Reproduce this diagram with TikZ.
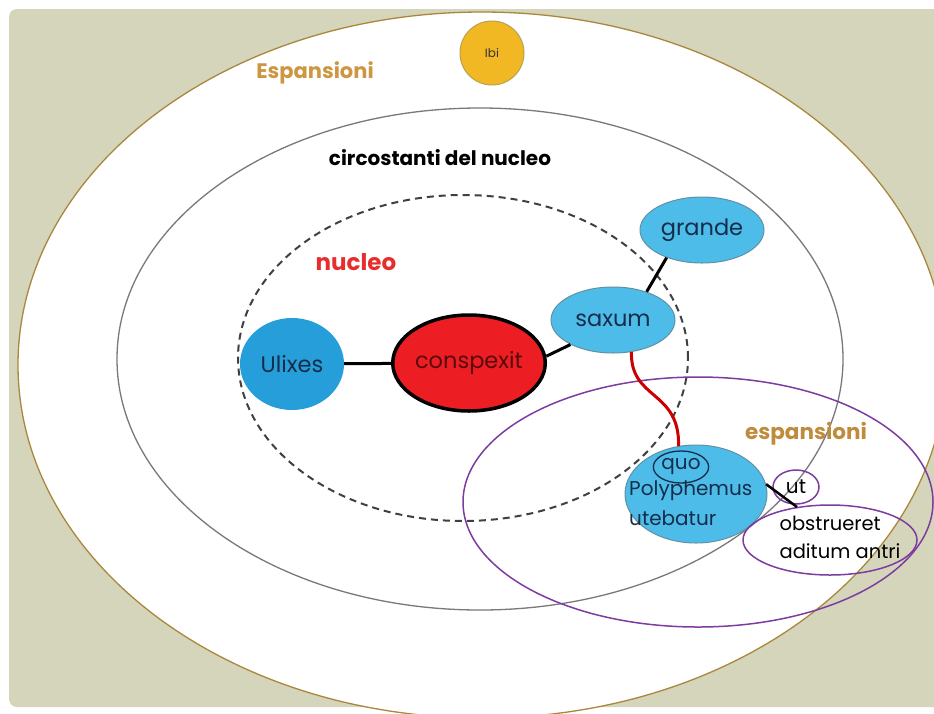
\documentclass[tikz,border=0pt]{standalone}
\usepackage{fontspec}
\setmainfont{Poppins}
\usetikzlibrary{shapes.geometric}
\definecolor{beige}{RGB}{213,213,187}
\definecolor{goldline}{RGB}{170,135,60}
\definecolor{goldtext}{RGB}{205,150,65}
\definecolor{goldtext2}{RGB}{190,140,60}
\definecolor{greyline}{RGB}{120,120,125}
\definecolor{purp}{RGB}{125,60,160}
\definecolor{blueDark}{RGB}{38,158,218}
\definecolor{blueLight}{RGB}{78,188,232}
\definecolor{blueEdge}{RGB}{95,145,165}
\definecolor{navy}{RGB}{20,45,75}
\definecolor{redfill}{RGB}{236,30,36}
\definecolor{consptext}{RGB}{90,10,10}
\definecolor{ibifill}{RGB}{242,184,36}
\definecolor{ibiedge}{RGB}{185,160,80}
\definecolor{nucred}{RGB}{232,45,45}
\tikzset{
  bubble/.style={ellipse, inner sep=0pt, font=\fontsize{22.5}{22.5}\selectfont, text=navy},
  lightbubble/.style={bubble, fill=blueLight, draw=blueEdge, line width=1pt},
  purpring/.style={ellipse, inner sep=0pt, draw=purp, line width=1.5pt},
  link/.style={line width=3pt, black},
  label/.style={inner sep=0pt, font=\bfseries\fontsize{21}{21}\selectfont},
  plaintext/.style={inner sep=0pt, anchor=west, font=\fontsize{20}{27}\selectfont}
}
\begin{document}
\begin{tikzpicture}[x=1pt,y=-1pt]
\useasboundingbox (0,0) rectangle (934,713);
\clip (0,0) rectangle (934,713);
\fill[white] (0,0) rectangle (934,713);
\fill[beige, rounded corners=8pt] (9,9) rectangle (960,707);
% outer ellipse
\draw[goldline, fill=white, line width=1.3pt] (482,365) ellipse [x radius=464pt, y radius=353pt];
% middle ellipse
\draw[greyline, line width=1.3pt] (480,359) ellipse [x radius=363pt, y radius=251pt];
% nucleus dashed
\draw[black!75, line width=2pt, dash pattern=on 7pt off 5pt] (463,358) ellipse [x radius=225pt, y radius=163pt];
% big purple ellipse
\draw[purp, line width=1.5pt] (698,502) ellipse [x radius=235pt, y radius=125pt];

% labels
\node[label, text=goldtext] (lEsp) at (315,73) {Espansioni};
\node[label, text=black, font=\bfseries\fontsize{20}{20}\selectfont] (lCirc) at (440,158) {circostanti del nucleo};
\node[label, text=nucred, font=\bfseries\fontsize{23}{23}\selectfont] (lNuc) at (356,262) {nucleo};
\node[label, text=goldtext2, font=\bfseries\fontsize{21.5}{21.5}\selectfont] (lesp) at (806,434) {espansioni};

% Ibi
\node[circle, fill=ibifill, draw=ibiedge, line width=1pt, minimum size=64pt, inner sep=0pt,
      font=\fontsize{12}{12}\selectfont, text=black!80] (ibi) at (492,53) {Ibi};

% main nodes
\node[bubble, fill=blueDark, minimum width=104pt, minimum height=92pt] (ulixes) at (292,364) {Ulixes};
\node[bubble, fill=redfill, draw=black, line width=3.5pt, minimum width=130pt, minimum height=96pt, text=consptext] (consp) at (469,363) {conspexit};
\node[lightbubble, minimum width=124pt, minimum height=66pt] (saxum) at (613,320) {saxum};
\node[lightbubble, minimum width=124pt, minimum height=66pt] (grande) at (702,230) {grande};
\node[lightbubble, minimum width=142pt, minimum height=98pt] (poly) at (696,494) {};

\draw[link] (ulixes) -- (consp);
\draw[link] (consp.5) -- (saxum.-150);
\draw[link] (saxum.40) -- (grande.-142);
\draw[line width=3pt, red!80!black] (saxum.-60) .. controls (630,400) and (680,390) .. (poly.110);

% texts inside Polyphemus node
\node[ellipse, draw=navy, line width=1.3pt, minimum width=54pt, minimum height=32pt, inner sep=0pt,
      font=\fontsize{20}{20}\selectfont, text=navy] (quo) at (681,467) {quo};
\node[plaintext, text=navy] (polyt) at (629,491) {Polyphemus};
\node[plaintext, text=navy] (utebt) at (629,518) {utebatur};

% ut and obstrueret
\node[purpring, minimum width=46pt, minimum height=34pt, font=\fontsize{20}{20}\selectfont] (ut) at (796,487) {ut};
\node[purpring, minimum width=174pt, minimum height=70pt] (obst) at (830,540) {};
\node[inner sep=0pt, align=left, font=\fontsize{19.5}{28}\selectfont] (obstt) at (840,537) {obstrueret\\aditum antri};
\coordinate (j) at (797,507);
\draw[link, line width=2.5pt] (poly.8) -- (j);
\end{tikzpicture}
\end{document}
